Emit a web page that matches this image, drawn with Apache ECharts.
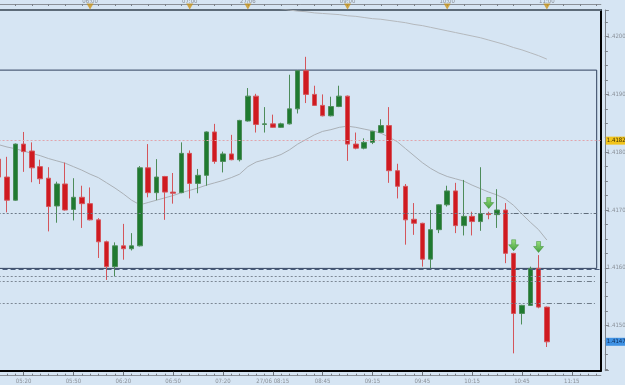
<!DOCTYPE html>
<html><head><meta charset="utf-8">
<script src="https://cdn.jsdelivr.net/npm/echarts@6/dist/echarts.min.js"></script>
<style>html,body{margin:0;padding:0;background:#d6e5f3;}#c{width:625px;height:385px;}</style>
</head><body><div id="c"></div>
<script>
// 5-minute bars (times); last six slots are empty future bars
const categories = [
'05:05','05:10','05:15','05:20','05:25','05:30','05:35','05:40','05:45','05:50',
'05:55','06:00','06:05','06:10','06:15','06:20','06:25','06:30','06:35','06:40',
'06:45','06:50','06:55','07:00','07:05','07:10','07:15','07:20','07:25','07:30',
'08:00','08:05','08:10','08:15','08:20','08:25','08:30','08:35','08:40','08:45',
'08:50','08:55','09:00','09:05','09:10','09:15','09:20','09:25','09:30','09:35',
'09:40','09:45','09:50','09:55','10:00','10:05','10:10','10:15','10:20','10:25',
'10:30','10:35','10:40','10:45','10:50','10:55','11:00','11:05','11:10','11:15',
'11:20','11:25','11:30'];

const opens = [1.41788,1.41757,1.41717,1.41814,1.41802,1.41775,1.41755,1.41707,1.41745,1.41701,
1.41722,1.41711,1.41683,1.41645,1.41602,1.41638,1.41633,1.41638,1.41773,1.41730,
1.41758,1.41731,1.41730,1.41798,1.41746,1.41760,1.41835,1.41784,1.41797,1.41787,
1.41854,1.41897,1.41848,1.41849,1.41843,1.41849,1.41875,1.41941,1.41900,1.41881,
1.41863,1.41879,1.41897,1.41814,1.41807,1.41817,1.41834,1.41846,1.41768,1.41741,
1.41684,1.41677,1.41615,1.41666,1.41709,1.41733,1.41673,1.41689,1.41680,1.41694,
1.41692,1.41700,1.41625,1.41521,1.41535,1.41599,1.41532];
const closes = [1.41757,1.41717,1.41814,1.41801,1.41773,1.41754,1.41706,1.41745,1.41700,1.41722,
1.41711,1.41683,1.41645,1.41602,1.41638,1.41633,1.41638,1.41773,1.41730,1.41757,
1.41731,1.41729,1.41798,1.41746,1.41760,1.41835,1.41784,1.41797,1.41787,1.41855,
1.41897,1.41848,1.41849,1.41843,1.41849,1.41875,1.41941,1.41900,1.41881,1.41863,
1.41879,1.41897,1.41814,1.41807,1.41817,1.41836,1.41846,1.41768,1.41741,1.41683,
1.41677,1.41615,1.41666,1.41709,1.41733,1.41673,1.41689,1.41680,1.41694,1.41692,
1.41700,1.41625,1.41521,1.41535,1.41599,1.41532,1.41472];
const lows = [1.41743,1.41696,1.41716,1.41766,1.41748,1.41745,1.41663,1.41678,1.41699,1.41682,
1.41669,1.41682,1.41617,1.41579,1.41585,1.41614,1.41630,1.41637,1.41722,1.41717,
1.41683,1.41711,1.41729,1.41720,1.41729,1.41742,1.41780,1.41765,1.41786,1.41784,
1.41853,1.41834,1.41834,1.41842,1.41842,1.41848,1.41867,1.41885,1.41880,1.41862,
1.41862,1.41878,1.41785,1.41805,1.41805,1.41814,1.41833,1.41747,1.41720,1.41640,
1.41657,1.41602,1.41599,1.41660,1.41706,1.41660,1.41656,1.41656,1.41664,1.41684,
1.41669,1.41608,1.41452,1.41502,1.41534,1.41530,1.41463];
const highs = [1.41801,1.41792,1.41815,1.41835,1.41817,1.41787,1.41774,1.41749,1.41782,1.41755,
1.41742,1.41739,1.41686,1.41647,1.41644,1.41676,1.41660,1.41776,1.41814,1.41788,
1.41759,1.41764,1.41817,1.41803,1.41771,1.41836,1.41849,1.41801,1.41830,1.41856,
1.41911,1.41901,1.41878,1.41865,1.41851,1.41934,1.41942,1.41965,1.41915,1.41900,
1.41896,1.41915,1.41898,1.41834,1.41824,1.41837,1.41857,1.41878,1.41780,1.41745,
1.41712,1.41678,1.41700,1.41710,1.41742,1.41747,1.41752,1.41697,1.41774,1.41697,
1.41736,1.41712,1.41626,1.41536,1.41602,1.41622,1.41533];

const maFast = [1.41813,1.41809,1.41806,1.41802,1.41798,1.41794,1.41789,1.41785,1.41781,1.41775,
1.41769,1.41762,1.41756,1.41747,1.41738,1.41728,1.41717,1.41709,1.41713,1.41717,
1.41721,1.41725,1.41730,1.41734,1.41738,1.41743,1.41747,1.41751,1.41756,1.41762,
1.41775,1.41783,1.41787,1.41791,1.41796,1.41804,1.41814,1.41822,1.41830,1.41836,
1.41839,1.41843,1.41845,1.41843,1.41840,1.41837,1.41833,1.41826,1.41818,1.41806,
1.41794,1.41782,1.41772,1.41764,1.41758,1.41754,1.41750,1.41743,1.41737,1.41731,
1.41726,1.41719,1.41708,1.41693,1.41679,1.41666,1.41648];
const maSlow = ['-','-','-','-','-','-','-','-','-','-','-','-','-','-','-','-','-','-','-','-',
'-','-','-','-','-','-','-','-','-','-','-','-','-',
1.42051,1.42048,1.42046,1.42044,1.42043,1.42041,1.42040,1.42039,1.42038,1.42036,
1.42035,1.42033,1.42031,1.42030,1.42028,1.42026,1.42024,1.42021,1.42019,1.42016,
1.42013,1.42010,1.42007,1.42004,1.42001,1.41998,1.41994,1.41990,1.41986,1.41981,
1.41977,1.41972,1.41967,1.41961];

// signal arrows (bar time, price)
const arrowTimes = ['10:25','10:40','10:55'];
const arrowPrices = [1.41712,1.41639,1.41636];

// hour separators on the top scale
const hourTimes = ['06:00','07:00','08:00','09:00','10:00','11:00'];
const hourLabels = ['06:00','07:00','27/06','09:00','10:00','11:00'];
const hourMarkerPrice = 1.42052;

// bottom scale labels
const bottomTickTimes = ['05:20','05:50','06:20','06:50','07:20','08:15','08:45','09:15','09:45','10:15','10:45','11:15'];
const bottomTickLabels = ['05:20','05:50','06:20','06:50','07:20','27/06 08:15','08:45','09:15','09:45','10:15','10:45','11:15'];

// horizontal levels
const askLevel = 1.4182;
const bidLevel = 1.41472;
const level1 = 1.41694;
const boxTop = 1.41942, boxBottom = 1.41599;
const dashLevel = 1.41597;
const levelsLow = [1.41585, 1.41576, 1.41538];

const yMin = 1.41422, yMax = 1.42046;

const candleData = opens.map((o, i) => [o, closes[i], lows[i], highs[i]]);
const FONT = '"Liberation Sans Narrow", "DejaVu Sans Condensed", "Liberation Sans", sans-serif';
const labelGray = '#8a9098';
const FS = 6;

const chart = echarts.init(document.getElementById('c'), null, {renderer: 'canvas'});

const bottomLabelShow = (i, v) => bottomTickTimes.indexOf(v) >= 0;
const hourShow = (i, v) => hourTimes.indexOf(v) >= 0;

const lowLines = [];
levelsLow.forEach(v => {
  lowLines.push([{coord: [0, v], lineStyle: {color: '#7d8894', type: [2, 2], width: 1}}, {coord: [66, v]}]);
  lowLines.push([{coord: [66, v], lineStyle: {color: '#6f7b88', type: [5, 2, 1, 2], width: 1}}, {coord: [72, v]}]);
});

const option = {
  animation: false,
  backgroundColor: '#d6e5f3',
  grid: {left: -5.45, right: 24.15, top: 10, bottom: 14.3, show: false, containLabel: false, outerBoundsMode: 'none'},
  xAxis: [
    {type: 'category', data: categories, position: 'bottom', boundaryGap: true,
     axisLine: {show: true, lineStyle: {color: '#000', width: 2}}, axisTick: {show: false}, axisLabel: {show: false}, splitLine: {show: false}},
    {type: 'category', data: categories, position: 'bottom', offset: 5, boundaryGap: true,
     axisLine: {show: true, lineStyle: {color: '#8a9098', width: 1}},
     axisTick: {show: true, inside: true, length: 2, interval: 0, alignWithLabel: true, lineStyle: {color: '#7a8088'}},
     axisLabel: {show: true, interval: bottomLabelShow, fontSize: FS, fontFamily: FONT, color: labelGray, margin: 3,
       formatter: v => bottomTickLabels[bottomTickTimes.indexOf(v)] || ''},
     splitLine: {show: false}},
    {type: 'category', data: categories, position: 'bottom', offset: 5, boundaryGap: true,
     axisLine: {show: false},
     axisTick: {show: true, inside: true, length: 4, interval: bottomLabelShow, alignWithLabel: true, lineStyle: {color: '#6a7078'}},
     axisLabel: {show: false}, splitLine: {show: false}},
    {type: 'category', data: categories, position: 'top', boundaryGap: true,
     axisLine: {show: true, lineStyle: {color: '#5d6b78', width: 2}}, axisTick: {show: false}, axisLabel: {show: false}, splitLine: {show: false}},
    {type: 'category', data: categories, position: 'top', offset: 6, boundaryGap: true,
     axisLine: {show: true, lineStyle: {color: '#8a9098', width: 1}},
     axisTick: {show: true, inside: true, length: 2, interval: 1, alignWithLabel: true, lineStyle: {color: '#7a8088'}},
     axisLabel: {show: true, interval: hourShow, fontSize: FS, fontFamily: FONT, color: labelGray, margin: 0,
       formatter: v => hourLabels[hourTimes.indexOf(v)] || ''},
     splitLine: {show: false}}
  ],
  yAxis: [
    {type: 'value', position: 'right', min: yMin, max: yMax, scale: true,
     axisLine: {show: true, lineStyle: {color: '#000', width: 2}}, axisTick: {show: false}, axisLabel: {show: false}, splitLine: {show: false}},
    {type: 'value', position: 'right', offset: 4, min: yMin, max: yMax, scale: true, splitNumber: 6,
     axisLine: {show: true, lineStyle: {color: '#7a8088', width: 1}},
     axisTick: {show: true, length: 4, lineStyle: {color: '#7a8088'}},
     minorTick: {show: true, splitNumber: 4, length: 3, lineStyle: {color: '#7a8088'}},
     axisLabel: {show: true, fontSize: FS, fontFamily: FONT, color: labelGray, margin: 2, showMinLabel: false, showMaxLabel: false,
       formatter: v => v.toFixed(4)},
     splitLine: {show: false}}
  ],
  series: [
    {
      type: 'line', name: 'MA slow', data: maSlow, xAxisIndex: 0, yAxisIndex: 0,
      showSymbol: false, symbol: 'none', clip: true, silent: true,
      lineStyle: {color: '#b4b8bc', width: 1}, z: 2
    },
    {
      type: 'line', name: 'MA fast', data: maFast, xAxisIndex: 0, yAxisIndex: 0,
      showSymbol: false, symbol: 'none', clip: true, silent: true,
      lineStyle: {color: '#aab0b6', width: 1}, z: 2
    },
    {
      type: 'candlestick', name: 'price', data: candleData, xAxisIndex: 0, yAxisIndex: 0,
      barWidth: 5, clip: false, z: 3,
      itemStyle: {color: '#1f7a30', color0: '#cf1a20', borderColor: '#4d8c5a', borderColor0: '#d4555b', borderWidth: 1},
      markArea: {
        silent: true,
        itemStyle: {color: 'rgba(0,0,0,0)', borderColor: '#2f3f5c', borderWidth: 1},
        data: [[{xAxis: 0, yAxis: boxTop}, {xAxis: 72, yAxis: boxBottom}]]
      },
      markLine: {
        silent: true, symbol: ['none', 'none'], animation: false, precision: 5,
        label: {show: false},
        data: [
          {yAxis: askLevel, lineStyle: {color: '#e2a4ac', type: [2, 2], width: 1},
           label: {show: true, position: 'end', distance: 5, formatter: p => p.value.toFixed(4), fontSize: FS, fontFamily: FONT,
             color: '#3d3000', backgroundColor: '#f2c41c', padding: [1, 2, 1, 1]}},
          {yAxis: bidLevel, lineStyle: {color: 'rgba(0,0,0,0)', width: 0},
           label: {show: true, position: 'end', distance: 5, formatter: p => p.value.toFixed(4), fontSize: FS, fontFamily: FONT,
             color: '#0d2b57', backgroundColor: '#3f92e4', padding: [1, 2, 1, 1], opacity: 1}},
          [{coord: [0, level1], lineStyle: {color: '#6d7a88', type: [2, 2], width: 1}}, {coord: [62, level1]}],
          [{coord: [62, level1], lineStyle: {color: '#5f6c7a', type: [5, 2, 1, 2], width: 1}}, {coord: [72, level1]}],
          {yAxis: dashLevel, lineStyle: {color: '#4a5d7c', type: [5, 3], width: 1}},
          ...lowLines
        ]
      }
    },
    {
      type: 'scatter', name: 'signals', xAxisIndex: 0, yAxisIndex: 0,
      data: arrowTimes.map((t, i) => [t, arrowPrices[i]]),
      symbol: 'path://M3,0L7,0L7,5L10,5L5,11L0,5L3,5Z', symbolSize: [10, 11], z: 5,
      itemStyle: {
        color: new echarts.graphic.LinearGradient(0, 0, 0, 1, [{offset: 0, color: '#8be05e'}, {offset: 1, color: '#1c8a12'}]),
        borderColor: '#1f7a14', borderWidth: 0.5
      }
    },
    {
      type: 'scatter', name: 'hours', xAxisIndex: 0, yAxisIndex: 0, clip: false,
      data: hourTimes.map(t => [t, hourMarkerPrice]),
      symbol: 'triangle', symbolRotate: 180, symbolSize: [7, 6], z: 6,
      itemStyle: {color: '#c9951c'}
    }
  ]
};
chart.setOption(option);
</script>
</body></html>
